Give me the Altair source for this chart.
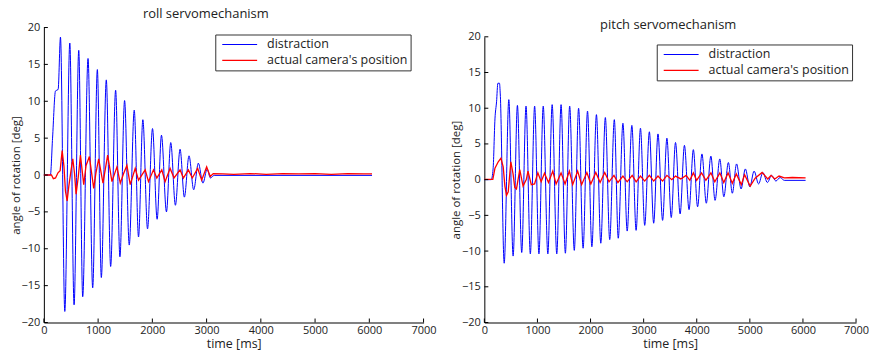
import altair as alt
import pandas as pd

FONT = "Open Sans"
SERIES = ["distraction", "actual camera's position"]
COLORS = ["#0000ff", "#ff0000"]

x_ticks = [0, 1000, 2000, 3000, 4000, 5000, 6000, 7000]
y_ticks = [-20, -15, -10, -5, 0, 5, 10, 15, 20]

# ---- roll servomechanism ----
roll_blue_t = [0, 120, 160, 214, 263, 306,
               386, 478, 557, 643, 716, 814, 900, 986, 1059, 1151, 1231, 1323, 1402, 1488,
               1574, 1666, 1745, 1825, 1911, 2003, 2088, 2168, 2260, 2339, 2425, 2511, 2590,
               2676, 2762, 2848, 2933, 3010, 3070, 3140, 6050]
roll_blue_v = [0, 0, 5, 11.4, 11.6, 18.7,
               -18.5, 17.9, -17.6, 16.9, -16.5, 15.8, -15.3, 14.3, -13.9, 12.9, -12.4, 11.5, -11.1, 10.1,
               -9.5, 8.8, -8.4, 7.5, -7.3, 6.3, -6.0, 5.4, -5.0, 4.4, -4.1, 3.5, -3.0,
               2.6, -2.0, 1.6, -1.1, 0.8, -0.4, -0.05, -0.05]
roll_red_t = [0, 140, 175, 215, 260, 300, 337, 370, 398, 429, 460, 500, 533, 565, 594, 635, 674,
              735, 778, 839, 919, 960, 1010, 1090, 1176, 1255, 1347, 1409, 1470, 1531, 1592, 1684,
              1745, 1868, 1929, 2021, 2082, 2174, 2235, 2327, 2400, 2511, 2572, 2664, 2737, 2835,
              2909, 3001, 3068, 3123, 3300, 3500, 3800, 4100, 4400, 4700, 5000, 5300, 5600, 5900, 6050]
roll_red_v = [0, 0, -0.5, -0.4, 0.3, 0.6, 3.3, 1.2, -2.2, -3.5, -1.5, 0.6, 2.2, 0.2, -2.6, -0.2, 2.7,
              -1.3, 1.3, 2.5, -1.8, 0.3, 2.2, -1.1, 2.7, -0.9, 1.1, -1.1, 0.2, 1.3, -1.3, 0.9,
              -0.7, 0.7, -0.9, 0.7, -0.4, 0.7, -0.9, 0.9, -0.4, 0.7, -0.4, 0.7, -0.4, 0.9,
              -0.7, 1.1, -0.2, 0.2, 0.15, 0.1, 0.2, 0.1, 0.2, 0.15, 0.2, 0.1, 0.2, 0.15, 0.15]

# ---- pitch servomechanism ----
pitch_blue_t = [0, 130, 165, 200, 230, 255, 285, 300,
                374, 461, 542, 623, 704, 785, 866, 947, 1028, 1109, 1196, 1277, 1364, 1445, 1526,
                1607, 1694, 1775, 1860, 1943, 2025, 2111, 2193, 2279, 2361, 2448, 2522, 2610, 2690,
                2778, 2858, 2940, 3020, 3108, 3189, 3270, 3357, 3438, 3520, 3600, 3687, 3768, 3855,
                3936, 4016, 4098, 4180, 4266, 4345, 4434, 4510, 4596, 4670, 4750, 4835, 4915, 5000,
                5080, 5165, 5245, 5330, 5410, 5490, 5570, 5650, 6050]
pitch_blue_v = [0, 0, 1.5, 8.5, 10.9, 13.5, 13.5, 12,
                -11.7, 11.2, -10.7, 10.4, -10.2, 10.3, -10.4, 10.3, -10.4, 10.3, -10.4, 10.5, -10.4, 10.5, -10.3,
                10.3, -9.9, 10.0, -9.6, 9.6, -9.4, 9.1, -8.9, 8.7, -8.4, 8.4, -8.2, 7.9, -7.2,
                7.6, -7.1, 7.2, -6.4, 6.7, -6.1, 6.4, -5.7, 5.8, -5.3, 5.2, -4.8, 4.8, -4.2,
                4.2, -3.8, 3.6, -3.3, 3.3, -2.9, 2.9, -2.4, 2.4, -1.9, 2.2, -1.3, 1.5, -1.0,
                1.2, -0.6, 1.0, -0.4, 0.6, -0.2, 0.3, -0.1, -0.1]
pitch_red_t = [0, 160, 200, 262, 312, 355, 387, 418, 450, 499, 541, 573, 605, 667, 729, 790, 822,
               884, 946, 1008, 1070, 1133, 1208, 1289, 1351, 1445, 1520, 1601, 1664, 1757, 1832,
               1931, 2006, 2099, 2180, 2267, 2348, 2441, 2516, 2610, 2690, 2784, 2859, 2940, 3020,
               3108, 3189, 3270, 3357, 3438, 3530, 3600, 3700, 3800, 3870, 3936, 3998, 4091, 4172,
               4267, 4340, 4435, 4509, 4590, 4670, 4745, 4840, 4901, 5006, 5100, 5231, 5337, 5399,
               5470, 5550, 5650, 5800, 6050]
pitch_red_v = [0.05, 0.05, 1.6, 2.5, 3.0, 1.8, -0.9, -2.2, -1.7, 2.5, 0.8, -1.1, -1.3, 1.4, -0.9, 0.0, 1.2,
               -0.7, -0.6, 0.95, -0.3, 0.9, -0.4, 1.2, -0.6, 0.95, -0.6, 1.2, -0.7, 1.2, -0.7,
               1.0, -0.6, 1.0, -0.4, 1.0, -0.3, 0.6, -0.4, 0.5, -0.3, 0.6, -0.3, 0.5, -0.2,
               0.6, -0.2, 0.5, -0.2, 0.6, 0.0, 0.5, 0.1, 0.6, -0.1, 0.95, -0.1, 0.95, -0.1,
               0.95, -0.3, 0.95, -0.4, 0.95, -0.5, 0.8, -0.7, 0.7, -0.9, 0.2, 1.0, 0.1, 0.6,
               0.1, 0.5, 0.25, 0.3, 0.25]


def series_df(ts, vs, name):
    n = min(len(ts), len(vs))
    return pd.DataFrame({"t": list(ts[:n]), "v": list(vs[:n]), "series": name})


H = 296  # group height shared by both panels (so they fit the page)


def panel(title_text, bt, bv, rt, rv, w, ytop, dx, dy, lx, ly):
    xs = alt.Scale(domain=[0, 7000], nice=False, zero=False)
    ys = alt.Scale(domain=[-20, 20], nice=False, range=[H, ytop])
    cs = alt.Scale(domain=SERIES, range=COLORS)
    xax = alt.Axis(values=x_ticks, format="d", title="time [ms]", ticks=False, grid=False,
                   labelFont=FONT, labelFontSize=11, labelColor="#222", labelPadding=2,
                   labelOverlap=False, labelFlush=False,
                   titleFont=FONT, titleFontSize=12.5, titleFontWeight="normal", titleColor="#222",
                   titlePadding=2, domainColor="#000")
    yax = alt.Axis(values=y_ticks, format="d", title="angle of rotation [deg]", ticks=False, grid=False,
                   labelFont=FONT, labelFontSize=11, labelColor="#222", labelPadding=4,
                   labelOverlap=False, labelFlush=False,
                   titleFont=FONT, titleFontSize=11.5, titleFontWeight="normal", titleColor="#222",
                   titlePadding=0, domainColor="#000")
    leg = alt.Legend(title=None, orient="none", legendX=lx, legendY=ly, direction="vertical",
                     symbolType="stroke", symbolSize=1225, symbolStrokeWidth=1.1,
                     symbolOffset=4, labelOffset=9,
                     labelFont=FONT, labelFontSize=12.5, labelColor="#222",
                     padding=2, strokeColor="#333", fillColor="white", clipHeight=16,
                     rowPadding=0, labelLimit=300)

    X = alt.X("t:Q", scale=xs, axis=xax)
    Y = alt.Y("v:Q", scale=ys, axis=yax)
    blue = alt.Chart(series_df(bt, bv, SERIES[0])).mark_line(
        strokeWidth=1.0, interpolate="monotone").encode(
        x=X, y=Y, color=alt.Color("series:N", scale=cs, legend=leg))
    red = alt.Chart(series_df(rt, rv, SERIES[1])).mark_line(
        strokeWidth=1.3).encode(
        x=X, y=Y, color=alt.Color("series:N", scale=cs, legend=leg))
    xt = alt.Chart(pd.DataFrame({"t": x_ticks})).mark_rule(color="#000", strokeWidth=1).encode(
        x=X, y=alt.value(H), y2=alt.value(H - 4))
    yt = alt.Chart(pd.DataFrame({"v": y_ticks})).mark_rule(color="#000", strokeWidth=1).encode(
        y=Y, x=alt.value(0), x2=alt.value(4))
    return alt.layer(blue, red, xt, yt).properties(
        width=w, height=H,
        title=alt.TitleParams(text=title_text, font=FONT, fontSize=13, fontWeight="normal",
                              color="#222", dx=dx, dy=dy, offset=0.5, frame="group"),
    )


left = panel("roll servomechanism", roll_blue_t, roll_blue_v, roll_red_t, roll_red_v,
             381, 0, -28, 0, 172, 7)
right = panel("pitch servomechanism", pitch_blue_t, pitch_blue_v, pitch_red_t, pitch_red_v,
              373, 9.3, -2, 4.7, 173, 17)

chart = alt.hconcat(left, right, spacing=14).properties(
    padding={"left": 2, "top": -1, "right": 0, "bottom": 0}
).resolve_legend(color="independent").configure_view(stroke=None)

chart.save("out.html", embed_options={"renderer": "svg", "actions": False})
